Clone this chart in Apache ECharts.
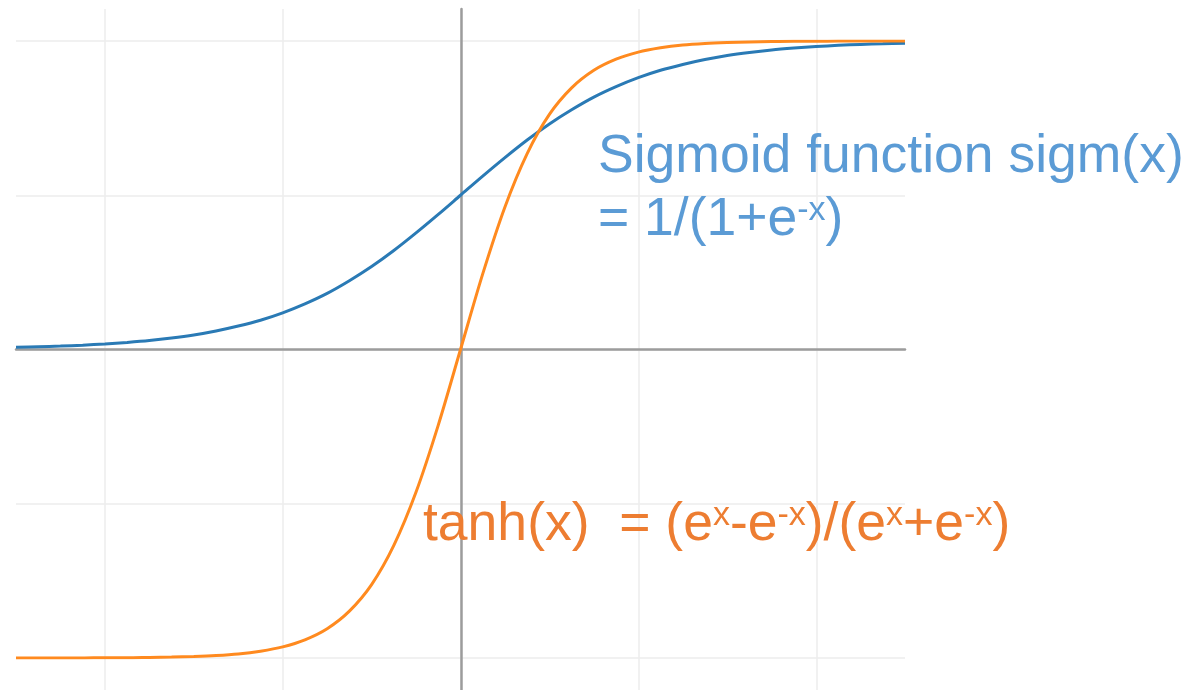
<!DOCTYPE html>
<html>
<head>
<meta charset="utf-8">
<script src="https://cdn.jsdelivr.net/npm/echarts@6/dist/echarts.min.js"></script>
<style>
  html, body { margin: 0; padding: 0; background: #fff; }
  #chart { width: 1202px; height: 690px; }
</style>
</head>
<body>
<div id="chart"></div>
<script>
// x positions of the sampled points
const xs = [
  -5, -4.75, -4.5, -4.25, -4, -3.75, -3.5, -3.25, -3, -2.75, -2.5, -2.25, -2, -1.75, -1.5, -1.25, -1, -0.75, -0.5, -0.25,
  0, 0.25, 0.5, 0.75, 1, 1.25, 1.5, 1.75, 2, 2.25, 2.5, 2.75, 3, 3.25, 3.5, 3.75, 4, 4.25, 4.5, 4.75, 5
]
// blue curve
const sigmValues = [
  0.007, 0.009, 0.011, 0.014, 0.018, 0.023, 0.029, 0.037, 0.047, 0.060, 0.076, 0.095, 0.119, 0.148, 0.182, 0.223, 0.269, 0.321, 0.378, 0.438,
  0.500, 0.562, 0.622, 0.679, 0.731, 0.777, 0.818, 0.852, 0.881, 0.905, 0.924, 0.940, 0.953, 0.963, 0.971, 0.977, 0.982, 0.986, 0.989, 0.991, 0.993
]
// orange curve
const tanhValues = [
  -1.000, -1.000, -1.000, -1.000, -0.999, -0.999, -0.998, -0.997, -0.995, -0.992, -0.987, -0.978, -0.964, -0.941, -0.905, -0.848, -0.762, -0.635, -0.462, -0.245,
  0.000, 0.245, 0.462, 0.635, 0.762, 0.848, 0.905, 0.941, 0.964, 0.978, 0.987, 0.992, 0.995, 0.997, 0.998, 0.999, 0.999, 1.000, 1.000, 1.000, 1.000
]

const sigmLabel = '{m|Sigmoid function sigm(x)}\n{m|= 1/(1+e}{s|-x}{m|)}'
const tanhLabel = '{m|tanh(x)  = (e}{s|x}{m|-e}{s|-x}{m|)/(e}{s|x}{m|+e}{s|-x}{m|)}'

const gridColor = '#ececec'
const axisColor = '#9c9c9c'

const chart = echarts.init(document.getElementById('chart'))

const richStyle = {
  m: { fontSize: 53.5, lineHeight: 63, fontFamily: 'Liberation Sans' },
  s: { fontSize: 34, lineHeight: 34, fontFamily: 'Liberation Sans', verticalAlign: 'top', padding: [5, 0, 0, 0] },
}

chart.setOption({
  backgroundColor: '#fff',
  animation: false,
  grid: [
    { left: 16, right: 297, top: 41, bottom: 32 },
    { left: 105, right: 385, top: 9, bottom: 0 },
  ],
  xAxis: [
    {
      type: 'value', gridIndex: 0, min: -5, max: 5,
      axisLine: { show: true, onZero: true, lineStyle: { color: axisColor, width: 2.5 } },
      axisTick: { show: false }, axisLabel: { show: false }, splitLine: { show: false },
    },
    {
      type: 'value', gridIndex: 1, min: -4, max: 4, interval: 2,
      axisLine: { show: false }, axisTick: { show: false }, axisLabel: { show: false },
      splitLine: { show: true, lineStyle: { color: gridColor, width: 1.5 } },
    },
  ],
  yAxis: [
    {
      type: 'value', gridIndex: 0, min: -1, max: 1, interval: 0.5,
      axisLine: { show: false }, axisTick: { show: false }, axisLabel: { show: false },
      splitLine: { show: true, lineStyle: { color: gridColor, width: 1.5 } },
    },
    {
      type: 'value', gridIndex: 1, min: 0, max: 1,
      axisLine: { show: true, onZero: true, lineStyle: { color: axisColor, width: 2.5 } },
      axisTick: { show: false }, axisLabel: { show: false }, splitLine: { show: false },
    },
  ],
  series: [
    {
      type: 'line', name: 'sigm', xAxisIndex: 0, yAxisIndex: 0,
      data: xs.map((x, i) => [x, sigmValues[i]]),
      showSymbol: false, smooth: 0.3,
      lineStyle: { color: '#2a7ab5', width: 3 },
      z: 3,
    },
    {
      type: 'line', name: 'tanh', xAxisIndex: 0, yAxisIndex: 0,
      data: xs.map((x, i) => [x, tanhValues[i]]),
      showSymbol: false, smooth: 0.3,
      lineStyle: { color: '#ff8a1f', width: 3 },
      z: 4,
    },
  ],
  graphic: [
    {
      type: 'text', left: 598, top: 130, z: 10,
      style: { text: sigmLabel, fill: '#5b9bd5', rich: richStyle },
    },
    {
      type: 'text', left: 423, top: 494, z: 10,
      style: { text: tanhLabel, fill: '#ed7d31', rich: richStyle },
    },
  ],
})
</script>
</body>
</html>
